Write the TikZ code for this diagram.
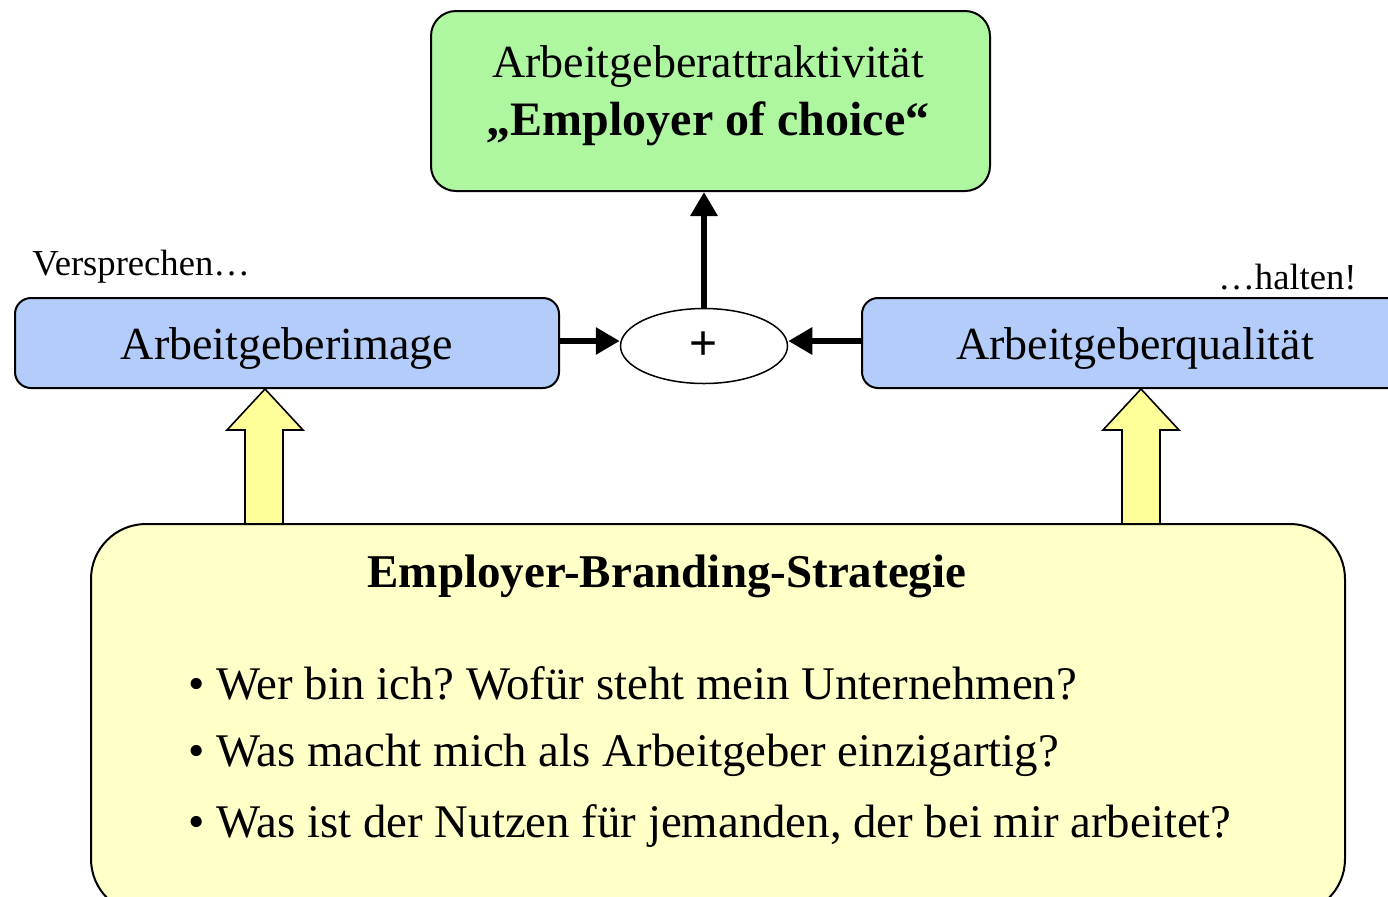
\documentclass[tikz,border=0pt]{standalone}
\usepackage{fontspec}
\setmainfont{Liberation Serif}
\newfontfamily\plusfont{Liberation Sans}
\usetikzlibrary{arrows.meta,calc,shapes.geometric}
\frenchspacing

\definecolor{goalgreen}{RGB}{174,246,160}
\definecolor{boxblue}{RGB}{180,204,249}
\definecolor{arrowyellow}{RGB}{255,255,153}
\definecolor{basefill}{RGB}{255,255,200}

\tikzset{
  roundbox/.style={draw=black, line width=1pt, rounded corners=8pt, inner sep=0pt},
  bluebox/.style={roundbox, fill=boxblue, minimum width=272pt, minimum height=45pt,
    text height=18pt, text depth=2pt, font=\fontsize{23}{26}\selectfont},
  fatarrow/.style={line width=3pt, -{Triangle[length=12pt,width=13pt]}},
  blockarrow/.style={draw=black, line width=0.8pt, fill=arrowyellow, line join=miter},
  bullet/.style={anchor=west, inner sep=0pt, font=\fontsize{23.4}{26}\selectfont},
  sidenote/.style={inner sep=0pt, font=\fontsize{18.3}{20}\selectfont}
}

\begin{document}
\begin{tikzpicture}[x=0.5pt,y=-0.5pt]
  \useasboundingbox (0,0) rectangle (1388,896);
  \clip (0,0) rectangle (1388,896);

  % goal at the top
  \node[roundbox, fill=goalgreen, rounded corners=12.5pt,
        minimum width=279.5pt, minimum height=90pt] (goal) at (710.5,101) {};
  \node[align=center, inner sep=0pt, font=\fontsize{23}{29}\selectfont] (goaltext) at (708,96)
    {Arbeitgeberattraktivität\\{\fontsize{24}{29}\selectfont\bfseries „Employer of choice“}};

  % image and quality
  \node[bluebox] (image) at (287,343) {Arbeitgeberimage};
  \node[bluebox, minimum width=273pt] (quality) at (1135,343) {Arbeitgeberqualität};

  \node[sidenote, anchor=west] (promise) at (32,267) {Versprechen…};
  \node[sidenote, anchor=east] (keep) at (1357,277) {…halten!};

  % the sum of both
  \node[ellipse, draw=black, line width=0.75pt, fill=white,
        minimum width=83.5pt, minimum height=37.5pt, inner sep=0pt] (sum) at (704,346)
        {\plusfont\fontsize{24}{24}\selectfont +};

  \draw[fatarrow] (image.east |- 0,341) -- (sum.west |- 0,341);
  \draw[fatarrow] (quality.west |- 0,341) -- (sum.east |- 0,341);
  \draw[fatarrow] (sum.north) -- (sum.north |- goal.south);

  % strategy base
  \node[roundbox, fill=basefill, rounded corners=27.5pt,
        minimum width=627pt, minimum height=195pt] (base) at (718,719) {};
  \node[inner sep=0pt, font=\fontsize{23.5}{28}\selectfont\bfseries] (title) at (667,576)
    {Employer-Branding-Strategie};
  \node[bullet] (q1) at (188,683) {• Wer bin ich? Wofür steht mein Unternehmen?};
  \node[bullet] (q2) at (188,755) {• Was macht mich als Arbeitgeber einzigartig?};
  \node[bullet] (q3) at (188,826) {• Was ist der Nutzen für jemanden, der bei mir arbeitet?};

  % block arrows from the strategy up to both boxes
  \coordinate (tipL) at (265,389);
  \coordinate (tipR) at (1141,389);
  \draw[blockarrow] (tipL) -- ++(38,41) -- ++(-20,0) -- (283,524) -- (245,524)
    -- (245,430) -- (227,430) -- cycle;
  \draw[blockarrow] (tipR) -- ++(38,41) -- ++(-19,0) -- (1160,524) -- (1122,524)
    -- (1122,430) -- (1103,430) -- cycle;
\end{tikzpicture}
\end{document}
